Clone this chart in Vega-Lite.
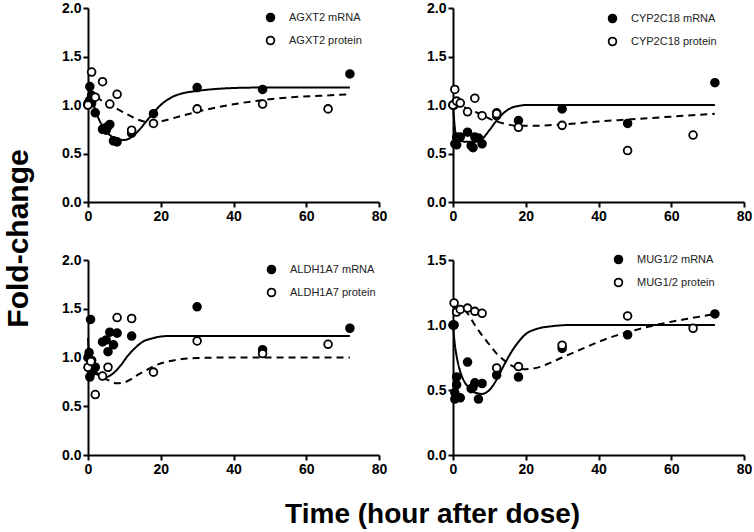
{
  "$schema": "https://vega.github.io/schema/vega-lite/v6.json",
  "background": "white",
  "padding": {"left": 3, "top": 1, "right": 0, "bottom": 0},
  "title": {"text": "Time (hour after dose)", "orient": "bottom", "anchor": "middle", "fontSize": 28, "fontWeight": "bold", "font": "Liberation Sans", "color": "black", "offset": 25, "dx": 55},
  "datasets": {
    "points": [
      {"p":"A","s":"AGXT2 mRNA","t":0,"v":1.0},{"p":"A","s":"AGXT2 mRNA","t":0,"v":1.02},{"p":"A","s":"AGXT2 mRNA","t":0.5,"v":1.19},{"p":"A","s":"AGXT2 mRNA","t":0.5,"v":1.05},{"p":"A","s":"AGXT2 mRNA","t":1,"v":1.1},{"p":"A","s":"AGXT2 mRNA","t":1,"v":1.02},{"p":"A","s":"AGXT2 mRNA","t":2,"v":0.92},{"p":"A","s":"AGXT2 mRNA","t":4,"v":0.75},{"p":"A","s":"AGXT2 mRNA","t":4.5,"v":0.76},{"p":"A","s":"AGXT2 mRNA","t":5,"v":0.74},{"p":"A","s":"AGXT2 mRNA","t":6,"v":0.8},{"p":"A","s":"AGXT2 mRNA","t":5.5,"v":0.78},{"p":"A","s":"AGXT2 mRNA","t":7,"v":0.63},{"p":"A","s":"AGXT2 mRNA","t":8,"v":0.62},{"p":"A","s":"AGXT2 mRNA","t":12,"v":0.71},{"p":"A","s":"AGXT2 mRNA","t":18,"v":0.91},{"p":"A","s":"AGXT2 mRNA","t":30,"v":1.18},{"p":"A","s":"AGXT2 mRNA","t":48,"v":1.16},{"p":"A","s":"AGXT2 mRNA","t":72,"v":1.32},
      {"p":"A","s":"AGXT2 protein","t":0,"v":1.0},{"p":"A","s":"AGXT2 protein","t":1,"v":1.34},{"p":"A","s":"AGXT2 protein","t":2,"v":1.08},{"p":"A","s":"AGXT2 protein","t":4,"v":1.24},{"p":"A","s":"AGXT2 protein","t":6,"v":1.01},{"p":"A","s":"AGXT2 protein","t":8,"v":1.11},{"p":"A","s":"AGXT2 protein","t":12,"v":0.74},{"p":"A","s":"AGXT2 protein","t":18,"v":0.81},{"p":"A","s":"AGXT2 protein","t":30,"v":0.96},{"p":"A","s":"AGXT2 protein","t":48,"v":1.01},{"p":"A","s":"AGXT2 protein","t":66,"v":0.96},
      {"p":"B","s":"CYP2C18 mRNA","t":0,"v":1.0},{"p":"B","s":"CYP2C18 mRNA","t":0.3,"v":1.0},{"p":"B","s":"CYP2C18 mRNA","t":0.5,"v":0.6},{"p":"B","s":"CYP2C18 mRNA","t":1,"v":0.59},{"p":"B","s":"CYP2C18 mRNA","t":1,"v":0.67},{"p":"B","s":"CYP2C18 mRNA","t":2,"v":0.67},{"p":"B","s":"CYP2C18 mRNA","t":4,"v":0.72},{"p":"B","s":"CYP2C18 mRNA","t":5,"v":0.58},{"p":"B","s":"CYP2C18 mRNA","t":5.5,"v":0.56},{"p":"B","s":"CYP2C18 mRNA","t":6,"v":0.67},{"p":"B","s":"CYP2C18 mRNA","t":7,"v":0.66},{"p":"B","s":"CYP2C18 mRNA","t":8,"v":0.6},{"p":"B","s":"CYP2C18 mRNA","t":12,"v":0.92},{"p":"B","s":"CYP2C18 mRNA","t":12,"v":0.89},{"p":"B","s":"CYP2C18 mRNA","t":18,"v":0.84},{"p":"B","s":"CYP2C18 mRNA","t":30,"v":0.96},{"p":"B","s":"CYP2C18 mRNA","t":48,"v":0.81},{"p":"B","s":"CYP2C18 mRNA","t":72,"v":1.23},
      {"p":"B","s":"CYP2C18 protein","t":0,"v":1.0},{"p":"B","s":"CYP2C18 protein","t":0.5,"v":1.16},{"p":"B","s":"CYP2C18 protein","t":1,"v":1.04},{"p":"B","s":"CYP2C18 protein","t":2,"v":1.02},{"p":"B","s":"CYP2C18 protein","t":4,"v":0.93},{"p":"B","s":"CYP2C18 protein","t":6,"v":1.07},{"p":"B","s":"CYP2C18 protein","t":8,"v":0.89},{"p":"B","s":"CYP2C18 protein","t":12,"v":0.91},{"p":"B","s":"CYP2C18 protein","t":18,"v":0.77},{"p":"B","s":"CYP2C18 protein","t":30,"v":0.79},{"p":"B","s":"CYP2C18 protein","t":48,"v":0.53},{"p":"B","s":"CYP2C18 protein","t":66,"v":0.69},
      {"p":"C","s":"ALDH1A7 mRNA","t":0,"v":1.0},{"p":"C","s":"ALDH1A7 mRNA","t":0.3,"v":1.05},{"p":"C","s":"ALDH1A7 mRNA","t":0.7,"v":1.39},{"p":"C","s":"ALDH1A7 mRNA","t":0.5,"v":0.8},{"p":"C","s":"ALDH1A7 mRNA","t":1,"v":0.85},{"p":"C","s":"ALDH1A7 mRNA","t":1,"v":0.97},{"p":"C","s":"ALDH1A7 mRNA","t":2,"v":0.9},{"p":"C","s":"ALDH1A7 mRNA","t":4,"v":1.16},{"p":"C","s":"ALDH1A7 mRNA","t":5,"v":1.18},{"p":"C","s":"ALDH1A7 mRNA","t":6,"v":1.26},{"p":"C","s":"ALDH1A7 mRNA","t":5.5,"v":1.06},{"p":"C","s":"ALDH1A7 mRNA","t":7,"v":1.13},{"p":"C","s":"ALDH1A7 mRNA","t":8,"v":1.25},{"p":"C","s":"ALDH1A7 mRNA","t":12,"v":1.22},{"p":"C","s":"ALDH1A7 mRNA","t":30,"v":1.52},{"p":"C","s":"ALDH1A7 mRNA","t":48,"v":1.08},{"p":"C","s":"ALDH1A7 mRNA","t":72,"v":1.3},
      {"p":"C","s":"ALDH1A7 protein","t":0,"v":0.9},{"p":"C","s":"ALDH1A7 protein","t":0.8,"v":0.96},{"p":"C","s":"ALDH1A7 protein","t":2,"v":0.62},{"p":"C","s":"ALDH1A7 protein","t":4,"v":0.81},{"p":"C","s":"ALDH1A7 protein","t":5.5,"v":0.9},{"p":"C","s":"ALDH1A7 protein","t":8,"v":1.41},{"p":"C","s":"ALDH1A7 protein","t":12,"v":1.4},{"p":"C","s":"ALDH1A7 protein","t":18,"v":0.85},{"p":"C","s":"ALDH1A7 protein","t":30,"v":1.17},{"p":"C","s":"ALDH1A7 protein","t":48,"v":1.04},{"p":"C","s":"ALDH1A7 protein","t":66,"v":1.135},
      {"p":"D","s":"MUG1/2 mRNA","t":0,"v":1.0},{"p":"D","s":"MUG1/2 mRNA","t":0.3,"v":1.0},{"p":"D","s":"MUG1/2 mRNA","t":0.5,"v":0.48},{"p":"D","s":"MUG1/2 mRNA","t":0.5,"v":0.43},{"p":"D","s":"MUG1/2 mRNA","t":1,"v":0.54},{"p":"D","s":"MUG1/2 mRNA","t":1,"v":0.6},{"p":"D","s":"MUG1/2 mRNA","t":2,"v":0.44},{"p":"D","s":"MUG1/2 mRNA","t":4,"v":0.715},{"p":"D","s":"MUG1/2 mRNA","t":5,"v":0.51},{"p":"D","s":"MUG1/2 mRNA","t":6,"v":0.555},{"p":"D","s":"MUG1/2 mRNA","t":5.5,"v":0.52},{"p":"D","s":"MUG1/2 mRNA","t":7,"v":0.43},{"p":"D","s":"MUG1/2 mRNA","t":8,"v":0.55},{"p":"D","s":"MUG1/2 mRNA","t":12,"v":0.615},{"p":"D","s":"MUG1/2 mRNA","t":18,"v":0.6},{"p":"D","s":"MUG1/2 mRNA","t":30,"v":0.82},{"p":"D","s":"MUG1/2 mRNA","t":48,"v":0.925},{"p":"D","s":"MUG1/2 mRNA","t":72,"v":1.085},
      {"p":"D","s":"MUG1/2 protein","t":0.3,"v":1.17},{"p":"D","s":"MUG1/2 protein","t":1,"v":1.1},{"p":"D","s":"MUG1/2 protein","t":2,"v":1.12},{"p":"D","s":"MUG1/2 protein","t":4,"v":1.13},{"p":"D","s":"MUG1/2 protein","t":6,"v":1.105},{"p":"D","s":"MUG1/2 protein","t":8,"v":1.09},{"p":"D","s":"MUG1/2 protein","t":12,"v":0.67},{"p":"D","s":"MUG1/2 protein","t":18,"v":0.68},{"p":"D","s":"MUG1/2 protein","t":30,"v":0.845},{"p":"D","s":"MUG1/2 protein","t":48,"v":1.07},{"p":"D","s":"MUG1/2 protein","t":66,"v":0.975}
    ],
    "curves": [
      {"p":"A","k":"mRNA","t":0,"v":1.0},{"p":"A","k":"mRNA","t":0.5,"v":1.07},{"p":"A","k":"mRNA","t":1,"v":1.07},{"p":"A","k":"mRNA","t":2,"v":0.95},{"p":"A","k":"mRNA","t":4,"v":0.78},{"p":"A","k":"mRNA","t":6,"v":0.69},{"p":"A","k":"mRNA","t":8,"v":0.645},{"p":"A","k":"mRNA","t":10,"v":0.64},{"p":"A","k":"mRNA","t":12,"v":0.67},{"p":"A","k":"mRNA","t":14,"v":0.74},{"p":"A","k":"mRNA","t":16,"v":0.83},{"p":"A","k":"mRNA","t":18,"v":0.92},{"p":"A","k":"mRNA","t":20,"v":1.0},{"p":"A","k":"mRNA","t":23,"v":1.08},{"p":"A","k":"mRNA","t":26,"v":1.12},{"p":"A","k":"mRNA","t":30,"v":1.145},{"p":"A","k":"mRNA","t":35,"v":1.165},{"p":"A","k":"mRNA","t":40,"v":1.175},{"p":"A","k":"mRNA","t":48,"v":1.18},{"p":"A","k":"mRNA","t":60,"v":1.18},{"p":"A","k":"mRNA","t":72,"v":1.18},
      {"p":"A","k":"protein","t":0,"v":1.0},{"p":"A","k":"protein","t":1,"v":1.07},{"p":"A","k":"protein","t":2,"v":1.08},{"p":"A","k":"protein","t":4,"v":1.04},{"p":"A","k":"protein","t":6,"v":1.0},{"p":"A","k":"protein","t":8,"v":0.96},{"p":"A","k":"protein","t":10,"v":0.92},{"p":"A","k":"protein","t":12,"v":0.88},{"p":"A","k":"protein","t":14,"v":0.845},{"p":"A","k":"protein","t":16,"v":0.825},{"p":"A","k":"protein","t":18,"v":0.82},{"p":"A","k":"protein","t":20,"v":0.83},{"p":"A","k":"protein","t":24,"v":0.87},{"p":"A","k":"protein","t":30,"v":0.93},{"p":"A","k":"protein","t":36,"v":0.98},{"p":"A","k":"protein","t":42,"v":1.02},{"p":"A","k":"protein","t":48,"v":1.05},{"p":"A","k":"protein","t":56,"v":1.08},{"p":"A","k":"protein","t":64,"v":1.095},{"p":"A","k":"protein","t":72,"v":1.11},
      {"p":"B","k":"mRNA","t":0,"v":1.0},{"p":"B","k":"mRNA","t":0.3,"v":0.85},{"p":"B","k":"mRNA","t":0.7,"v":0.7},{"p":"B","k":"mRNA","t":1,"v":0.66},{"p":"B","k":"mRNA","t":2,"v":0.63},{"p":"B","k":"mRNA","t":4,"v":0.62},{"p":"B","k":"mRNA","t":6,"v":0.62},{"p":"B","k":"mRNA","t":8,"v":0.65},{"p":"B","k":"mRNA","t":10,"v":0.74},{"p":"B","k":"mRNA","t":12,"v":0.84},{"p":"B","k":"mRNA","t":14,"v":0.92},{"p":"B","k":"mRNA","t":16,"v":0.97},{"p":"B","k":"mRNA","t":18,"v":0.99},{"p":"B","k":"mRNA","t":20,"v":1.0},{"p":"B","k":"mRNA","t":24,"v":1.0},{"p":"B","k":"mRNA","t":72,"v":1.0},
      {"p":"B","k":"protein","t":0,"v":1.02},{"p":"B","k":"protein","t":2,"v":1.0},{"p":"B","k":"protein","t":4,"v":0.96},{"p":"B","k":"protein","t":6,"v":0.93},{"p":"B","k":"protein","t":8,"v":0.9},{"p":"B","k":"protein","t":10,"v":0.86},{"p":"B","k":"protein","t":12,"v":0.83},{"p":"B","k":"protein","t":15,"v":0.8},{"p":"B","k":"protein","t":18,"v":0.785},{"p":"B","k":"protein","t":22,"v":0.785},{"p":"B","k":"protein","t":30,"v":0.8},{"p":"B","k":"protein","t":40,"v":0.83},{"p":"B","k":"protein","t":48,"v":0.85},{"p":"B","k":"protein","t":60,"v":0.88},{"p":"B","k":"protein","t":72,"v":0.91},
      {"p":"C","k":"mRNA","t":0,"v":1.2},{"p":"C","k":"mRNA","t":0.3,"v":1.0},{"p":"C","k":"mRNA","t":0.7,"v":0.9},{"p":"C","k":"mRNA","t":1.5,"v":0.85},{"p":"C","k":"mRNA","t":3,"v":0.82},{"p":"C","k":"mRNA","t":5,"v":0.8},{"p":"C","k":"mRNA","t":7,"v":0.84},{"p":"C","k":"mRNA","t":9,"v":0.92},{"p":"C","k":"mRNA","t":11,"v":1.02},{"p":"C","k":"mRNA","t":13,"v":1.1},{"p":"C","k":"mRNA","t":15,"v":1.16},{"p":"C","k":"mRNA","t":18,"v":1.2},{"p":"C","k":"mRNA","t":22,"v":1.22},{"p":"C","k":"mRNA","t":30,"v":1.22},{"p":"C","k":"mRNA","t":72,"v":1.22},
      {"p":"C","k":"protein","t":0,"v":0.98},{"p":"C","k":"protein","t":1,"v":0.9},{"p":"C","k":"protein","t":2,"v":0.86},{"p":"C","k":"protein","t":4,"v":0.8},{"p":"C","k":"protein","t":6,"v":0.76},{"p":"C","k":"protein","t":8,"v":0.735},{"p":"C","k":"protein","t":10,"v":0.745},{"p":"C","k":"protein","t":12,"v":0.78},{"p":"C","k":"protein","t":14,"v":0.83},{"p":"C","k":"protein","t":16,"v":0.87},{"p":"C","k":"protein","t":18,"v":0.91},{"p":"C","k":"protein","t":21,"v":0.95},{"p":"C","k":"protein","t":25,"v":0.98},{"p":"C","k":"protein","t":30,"v":0.995},{"p":"C","k":"protein","t":40,"v":1.0},{"p":"C","k":"protein","t":72,"v":1.0},
      {"p":"D","k":"mRNA","t":0,"v":1.0},{"p":"D","k":"mRNA","t":0.5,"v":0.85},{"p":"D","k":"mRNA","t":1,"v":0.76},{"p":"D","k":"mRNA","t":2,"v":0.64},{"p":"D","k":"mRNA","t":3,"v":0.57},{"p":"D","k":"mRNA","t":4,"v":0.53},{"p":"D","k":"mRNA","t":6,"v":0.48},{"p":"D","k":"mRNA","t":8,"v":0.47},{"p":"D","k":"mRNA","t":10,"v":0.5},{"p":"D","k":"mRNA","t":12,"v":0.58},{"p":"D","k":"mRNA","t":14,"v":0.69},{"p":"D","k":"mRNA","t":16,"v":0.79},{"p":"D","k":"mRNA","t":18,"v":0.87},{"p":"D","k":"mRNA","t":20,"v":0.93},{"p":"D","k":"mRNA","t":23,"v":0.97},{"p":"D","k":"mRNA","t":27,"v":0.99},{"p":"D","k":"mRNA","t":32,"v":1.0},{"p":"D","k":"mRNA","t":72,"v":1.0},
      {"p":"D","k":"protein","t":0,"v":1.13},{"p":"D","k":"protein","t":2,"v":1.13},{"p":"D","k":"protein","t":4,"v":1.09},{"p":"D","k":"protein","t":6,"v":1.0},{"p":"D","k":"protein","t":8,"v":0.92},{"p":"D","k":"protein","t":10,"v":0.85},{"p":"D","k":"protein","t":12,"v":0.78},{"p":"D","k":"protein","t":14,"v":0.73},{"p":"D","k":"protein","t":16,"v":0.69},{"p":"D","k":"protein","t":18,"v":0.665},{"p":"D","k":"protein","t":20,"v":0.66},{"p":"D","k":"protein","t":23,"v":0.67},{"p":"D","k":"protein","t":26,"v":0.7},{"p":"D","k":"protein","t":30,"v":0.75},{"p":"D","k":"protein","t":35,"v":0.81},{"p":"D","k":"protein","t":40,"v":0.87},{"p":"D","k":"protein","t":45,"v":0.92},{"p":"D","k":"protein","t":50,"v":0.96},{"p":"D","k":"protein","t":55,"v":0.995},{"p":"D","k":"protein","t":60,"v":1.025},{"p":"D","k":"protein","t":66,"v":1.055},{"p":"D","k":"protein","t":72,"v":1.085}
    ]
  },
  "vconcat": [
    {
      "title": {"text": "Fold-change", "orient": "left", "anchor": "middle", "fontSize": 30, "fontWeight": "bold", "font": "Liberation Sans", "color": "black", "offset": 28},
      "columns": 2,
      "spacing": {"row": 30, "column": 39},
      "resolve": {"scale": {"x": "independent", "y": "independent", "fill": "independent", "strokeDash": "independent"}, "legend": {"fill": "independent"}},
      "concat": [
        {
          "width": 291, "height": 194,
          "layer": [
            {"data": {"name": "curves"}, "transform": [{"filter": "datum.p === 'A'"}],
             "mark": {"type": "line", "interpolate": "monotone", "color": "black", "strokeWidth": 2},
             "encoding": {
               "x": {"field": "t", "type": "quantitative", "scale": {"domain": [0, 80], "nice": false}, "axis": {"values": [0, 20, 40, 60, 80], "title": null}},
               "y": {"field": "v", "type": "quantitative", "scale": {"domain": [0, 2], "nice": false}, "axis": {"values": [0, 0.5, 1, 1.5, 2], "format": ".1f", "title": null}},
               "strokeDash": {"field": "k", "type": "nominal", "scale": {"domain": ["mRNA", "protein"], "range": [[1, 0], [7, 5]]}, "legend": null}}},
            {"data": {"name": "points"}, "transform": [{"filter": "datum.p === 'A'"}],
             "mark": {"type": "point", "shape": "circle", "filled": true, "stroke": "black", "strokeWidth": 1.8, "size": 60, "opacity": 1},
             "encoding": {
               "x": {"field": "t", "type": "quantitative"},
               "y": {"field": "v", "type": "quantitative"},
               "fill": {"field": "s", "type": "nominal", "scale": {"domain": ["AGXT2 mRNA", "AGXT2 protein"], "range": ["black", "white"]}, "legend": {"legendX": 177, "legendY": 4}}}}
          ]
        },
        {
          "width": 291, "height": 194,
          "layer": [
            {"data": {"name": "curves"}, "transform": [{"filter": "datum.p === 'B'"}],
             "mark": {"type": "line", "interpolate": "monotone", "color": "black", "strokeWidth": 2},
             "encoding": {
               "x": {"field": "t", "type": "quantitative", "scale": {"domain": [0, 80], "nice": false}, "axis": {"values": [0, 20, 40, 60, 80], "title": null}},
               "y": {"field": "v", "type": "quantitative", "scale": {"domain": [0, 2], "nice": false}, "axis": {"values": [0, 0.5, 1, 1.5, 2], "format": ".1f", "title": null}},
               "strokeDash": {"field": "k", "type": "nominal", "scale": {"domain": ["mRNA", "protein"], "range": [[1, 0], [7, 5]]}, "legend": null}}},
            {"data": {"name": "points"}, "transform": [{"filter": "datum.p === 'B'"}],
             "mark": {"type": "point", "shape": "circle", "filled": true, "stroke": "black", "strokeWidth": 1.8, "size": 60, "opacity": 1},
             "encoding": {
               "x": {"field": "t", "type": "quantitative"},
               "y": {"field": "v", "type": "quantitative"},
               "fill": {"field": "s", "type": "nominal", "scale": {"domain": ["CYP2C18 mRNA", "CYP2C18 protein"], "range": ["black", "white"]}, "legend": {"legendX": 154, "legendY": 5}}}}
          ]
        },
        {
          "width": 291, "height": 195,
          "layer": [
            {"data": {"name": "curves"}, "transform": [{"filter": "datum.p === 'C'"}],
             "mark": {"type": "line", "interpolate": "monotone", "color": "black", "strokeWidth": 2},
             "encoding": {
               "x": {"field": "t", "type": "quantitative", "scale": {"domain": [0, 80], "nice": false}, "axis": {"values": [0, 20, 40, 60, 80], "title": null}},
               "y": {"field": "v", "type": "quantitative", "scale": {"domain": [0, 2], "nice": false}, "axis": {"values": [0, 0.5, 1, 1.5, 2], "format": ".1f", "title": null}},
               "strokeDash": {"field": "k", "type": "nominal", "scale": {"domain": ["mRNA", "protein"], "range": [[1, 0], [7, 5]]}, "legend": null}}},
            {"data": {"name": "points"}, "transform": [{"filter": "datum.p === 'C'"}],
             "mark": {"type": "point", "shape": "circle", "filled": true, "stroke": "black", "strokeWidth": 1.8, "size": 60, "opacity": 1},
             "encoding": {
               "x": {"field": "t", "type": "quantitative"},
               "y": {"field": "v", "type": "quantitative"},
               "fill": {"field": "s", "type": "nominal", "scale": {"domain": ["ALDH1A7 mRNA", "ALDH1A7 protein"], "range": ["black", "white"]}, "legend": {"legendX": 178, "legendY": 4}}}}
          ]
        },
        {
          "width": 291, "height": 195,
          "layer": [
            {"data": {"name": "curves"}, "transform": [{"filter": "datum.p === 'D'"}],
             "mark": {"type": "line", "interpolate": "monotone", "color": "black", "strokeWidth": 2},
             "encoding": {
               "x": {"field": "t", "type": "quantitative", "scale": {"domain": [0, 80], "nice": false}, "axis": {"values": [0, 20, 40, 60, 80], "title": null}},
               "y": {"field": "v", "type": "quantitative", "scale": {"domain": [0, 1.5], "nice": false}, "axis": {"values": [0, 0.5, 1, 1.5], "format": ".1f", "title": null}},
               "strokeDash": {"field": "k", "type": "nominal", "scale": {"domain": ["mRNA", "protein"], "range": [[1, 0], [7, 5]]}, "legend": null}}},
            {"data": {"name": "points"}, "transform": [{"filter": "datum.p === 'D'"}],
             "mark": {"type": "point", "shape": "circle", "filled": true, "stroke": "black", "strokeWidth": 1.8, "size": 60, "opacity": 1},
             "encoding": {
               "x": {"field": "t", "type": "quantitative"},
               "y": {"field": "v", "type": "quantitative"},
               "fill": {"field": "s", "type": "nominal", "scale": {"domain": ["MUG1/2 mRNA", "MUG1/2 protein"], "range": ["black", "white"]}, "legend": {"legendX": 160, "legendY": -6}}}}
          ]
        }
      ]
    }
  ],
  "config": {
    "view": {"stroke": null},
    "axis": {"grid": false, "domainColor": "black", "domainWidth": 2, "tickColor": "black", "tickWidth": 2, "tickSize": 5, "labelFont": "Liberation Sans", "labelFontSize": 14, "labelFontWeight": "bold", "labelColor": "black", "labelPadding": 2, "labelFlush": false},
    "legend": {"orient": "none", "title": null, "symbolType": "circle", "symbolStrokeColor": "black", "symbolStrokeWidth": 1.8, "symbolSize": 60, "labelFont": "Liberation Sans", "labelFontSize": 11, "labelColor": "#222222", "rowPadding": 8, "labelOffset": 13, "padding": 0}
  }
}
